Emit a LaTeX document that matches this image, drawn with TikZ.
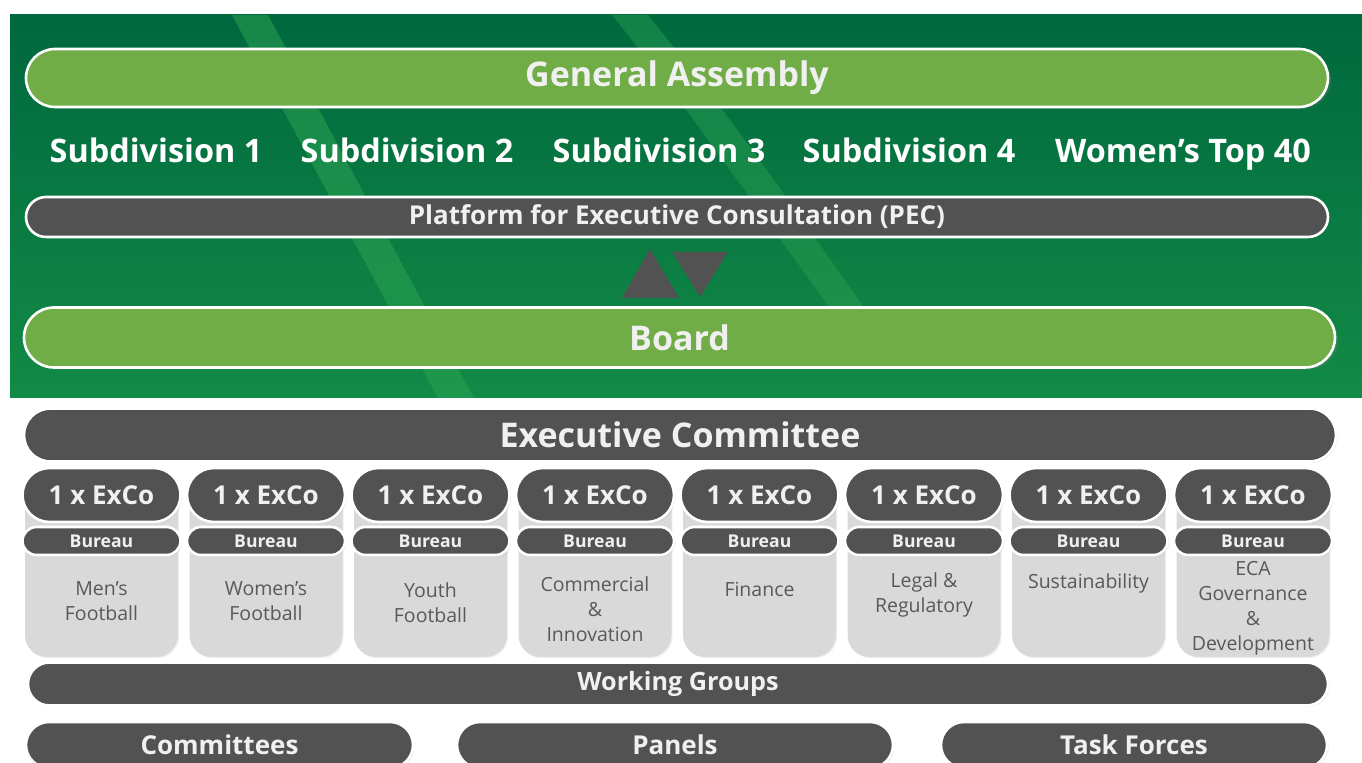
\documentclass[tikz,border=0pt]{standalone}
\usepackage{fontspec}
\setmainfont{Open Sans}
\usetikzlibrary{shapes.misc, shadows}

\definecolor{ecadark}{RGB}{0,104,62}
\definecolor{ecalight}{RGB}{18,139,70}
\definecolor{ecagreen}{RGB}{112,173,71}
\definecolor{ecagrey}{RGB}{82,82,82}
\definecolor{bodygrey}{RGB}{217,217,217}
\definecolor{beam}{RGB}{42,162,82}
\definecolor{labelgrey}{RGB}{89,89,89}
\definecolor{offwhite}{RGB}{240,240,240}

\begin{document}
\begin{tikzpicture}[x=0.5pt, y=-0.5pt,
  pill/.style={rounded rectangle, draw=white, line width=1.3pt, inner sep=0pt, text=offwhite},
  greenpill/.style={pill, fill=ecagreen, drop shadow={shadow xshift=1.5pt, shadow yshift=-1pt, opacity=0.25}},
  greypill/.style={pill, fill=ecagrey, drop shadow={shadow xshift=0.8pt, shadow yshift=-0.8pt, opacity=0.15}},
  bigtext/.style={font=\bfseries\fontsize{17}{20}\selectfont},
  midtext/.style={font=\bfseries\fontsize{13}{15}\selectfont},
  subdiv/.style={anchor=base, text=white, font=\bfseries\fontsize{16.2}{19}\selectfont},
  colbody/.style={fill=bodygrey, rounded corners=11pt, minimum width=76.5pt, minimum height=88.5pt, inner sep=0pt,
    drop shadow={shadow xshift=0.6pt, shadow yshift=-0.6pt, opacity=0.12}},
  collabel/.style={align=center, text=labelgrey, inner sep=0pt, font=\fontsize{9.75}{12.5}\selectfont}
]
\useasboundingbox (0,0) rectangle (1362,763);
\clip (0,0) rectangle (1362,763);
\shade[top color=ecadark, bottom color=ecalight] (10,15) rectangle (1362,398);
\fill[beam, opacity=0.55] (232,15) -- (268,15) -- (474,398) -- (438,398) -- cycle;
\fill[beam, opacity=0.45] (612,15) -- (648,15) -- (700,80) .. controls (760,160) .. (880,330) -- (846,330) .. controls (730,170) .. (668,85) -- cycle;

\node[greenpill, bigtext, minimum width=651pt, minimum height=29pt] (ga) at (677,78) {General Assembly};
\foreach \name/\cx [count=\i] in {Subdivision 1/156, Subdivision 2/407, Subdivision 3/659, Subdivision 4/909, Women’s Top 40/1183}
  \node[subdiv] (sub\i) at (\cx,163) {\name};
\node[pill, fill=ecagrey, minimum width=651pt, minimum height=20pt, font=\bfseries\fontsize{13}{15}\selectfont] (pec) at (677,217) {Platform for Executive Consultation (PEC)};
\fill[ecagrey] (622,298) -- (650,249) -- (679,298) -- cycle;
\fill[ecagrey] (672,252) -- (728,252) -- (700,297) -- cycle;
\node[greenpill, bigtext, minimum width=655.5pt, minimum height=30pt] (board) at (679.5,337.5) {Board};

\node[greypill, bigtext, minimum width=656pt, minimum height=26.5pt] (exco) at (680,435) {Executive Committee};
\foreach \lbl/\ty [count=\i] in {{Men’s\\Football}/601, {Women’s\\Football}/601, {Youth\\Football}/603, {Commercial\\\&\\Innovation}/609,
    {Finance}/589, {Legal \&\\Regulatory}/595, {Sustainability}/583, {ECA\\Governance\\\&\\Development}/608} {
  \pgfmathsetmacro\cx{101.5+164.5*(\i-1)}
  \node[colbody] (body\i) at (\cx,568.5) {};
  \node[collabel] (lab\i) at (\cx,\ty) {\lbl};
  \node[greypill, midtext, minimum width=79pt, minimum height=27pt] (member\i) at (\cx,495) {1 x ExCo};
  \node[greypill, minimum width=79pt, minimum height=14pt, font=\bfseries\fontsize{8.8}{10}\selectfont] (bureau\i) at (\cx,541) {Bureau};
}
\node[greypill, minimum width=650pt, minimum height=21.5pt, font=\bfseries\fontsize{12.6}{15}\selectfont] (wg) at (678,684) {Working Groups};
\node[greypill, midtext, minimum width=193.5pt, minimum height=23pt] (comm) at (219.5,745) {Committees};
\node[greypill, midtext, minimum width=218pt, minimum height=23pt] (panels) at (675,745) {Panels};
\node[greypill, midtext, minimum width=193pt, minimum height=23pt] (tasks) at (1134,745) {Task Forces};
\end{tikzpicture}
\end{document}
